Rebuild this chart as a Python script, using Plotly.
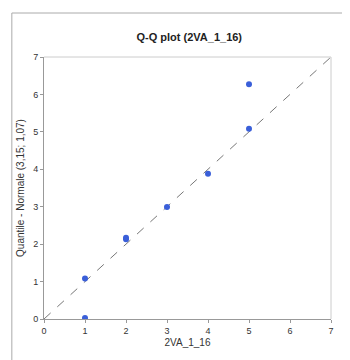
import plotly.graph_objects as go

x_vals = [1, 1, 2, 2, 3, 4, 5, 5]
y_vals = [0.03, 1.08, 2.13, 2.17, 2.99, 3.88, 5.08, 6.27]
ref_line = [0, 7]
tick_vals = [0, 1, 2, 3, 4, 5, 6, 7]

fig = go.Figure()
fig.add_trace(go.Scatter(x=ref_line, y=ref_line, mode="lines",
                         line=dict(color="#777777", width=1, dash="dash"),
                         hoverinfo="skip", showlegend=False))
fig.add_trace(go.Scatter(x=x_vals, y=y_vals, mode="markers",
                         marker=dict(color="#3a5fd9", size=6),
                         showlegend=False))

axis_common = dict(range=[0, 7], tickvals=tick_vals, showgrid=False, zeroline=False,
                   showline=True, linecolor="#999999", linewidth=1,
                   ticks="outside", ticklen=3, tickcolor="#999999",
                   tickfont=dict(family="Arial", size=9, color="#333333"))

W, H = 342, 352
fig.update_layout(
    width=W, height=H,
    margin=dict(l=33, r=19, t=49, b=41),
    plot_bgcolor="white", paper_bgcolor="white",
    title=dict(text="<b>Q-Q plot (2VA_1_16)</b>", x=0.53, xanchor="center",
               y=1 - 29/H, yanchor="middle",
               font=dict(family="Arial", size=11, color="#222222")),
    xaxis=dict(**axis_common, title=dict(text="2VA_1_16", standoff=4,
               font=dict(family="Arial", size=10, color="#333333"))),
    yaxis=dict(**axis_common, title=dict(text="Quantile - Normale (3,15; 1,07)", standoff=6,
               font=dict(family="Arial", size=10, color="#333333"))),
    shapes=[
        dict(type="line", xref="paper", yref="paper", x0=0, x1=1, y0=1, y1=1,
             line=dict(color="#cccccc", width=1)),
        dict(type="line", xref="paper", yref="paper", x0=1, x1=1, y0=0, y1=1,
             line=dict(color="#cccccc", width=1)),
        dict(type="rect", xref="paper", yref="paper",
             x0=-32.5/290, x1=304/290, y0=-0.17, y1=(319-13)/262,
             line=dict(color="#aaaaaa", width=1), layer="above"),
    ],
)

fig.write_html("out.html")
